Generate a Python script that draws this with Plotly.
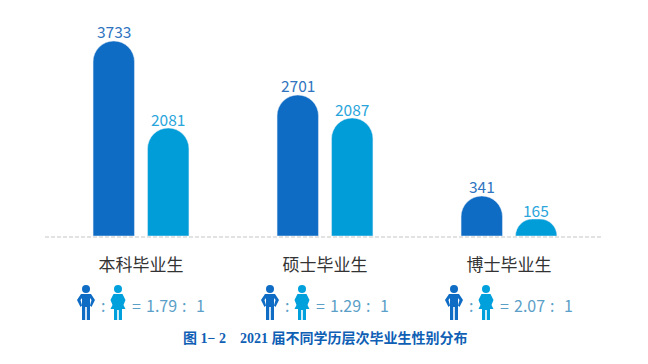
import plotly.graph_objects as go

categories = ["本科毕业生", "硕士毕业生", "博士毕业生"]
male_labels = [3733, 2701, 341]
female_labels = [2081, 2087, 165]
# Bar heights as drawn in the picture (the reference does not scale them exactly to the labels)
male_heights = [3733, 2699, 766]
female_heights = [2067, 2259, 325]
ratios = ["1.79", "1.29", "2.07"]
caption = "图 1− 2　2021 届不同学历层次毕业生性别分布"

# The page body has an 8px margin, so the figure starts at (8, 8) in the window.
PAGE = 8
W, H = 632, 348
ML, MR, MT, MB = 41, 39, 12, 120
PW, PH = W - ML - MR, H - MT - MB
BLUE, CYAN = "#0F6CC4", "#009DD9"
CAT_STEP = PW / 3
BAR_SHIFT = 27.25


def px(x):
    return (x - PAGE - ML) / PW


def py(y):
    return 1 - (y - PAGE - MT) / PH


def path(points):
    return "M" + " L".join(f"{px(x):.5f},{py(y):.5f}" for x, y in points) + " Z"


def person(cx, top, color, female=False):
    shapes = [dict(type="circle", xref="paper", yref="paper", x0=px(cx - 4), x1=px(cx + 4),
                   y0=py(top + 8), y1=py(top), fillcolor=color, line_width=0)]
    if not female:
        body = [(-5, 9), (5, 9), (9, 15), (5.5, 22), (4, 20.5), (5.5, 15), (4, 13), (4, 35),
                (0.8, 35), (0.8, 22), (-0.8, 22), (-0.8, 35), (-4, 35), (-4, 13), (-5.5, 15),
                (-4, 20.5), (-5.5, 22), (-9, 15)]
    else:
        body = [(-4.5, 9), (4.5, 9), (7.5, 15), (5.5, 20), (7.5, 24), (4, 24), (4, 35), (0.8, 35),
                (0.8, 25), (-0.8, 25), (-0.8, 35), (-4, 35), (-4, 24), (-7.5, 24), (-5.5, 20),
                (-7.5, 15)]
    shapes.append(dict(type="path", xref="paper", yref="paper",
                       path=path([(cx + a, top + b) for a, b in body]),
                       fillcolor=color, line_width=0))
    return shapes


def note(text, x, y, size=16, color="#5B9FC8", anchor="center", **kw):
    return dict(text=text, x=px(x), y=py(y), xref="paper", yref="paper", xanchor=anchor,
                yanchor="middle", showarrow=False, font=dict(size=size, color=color, **kw))


fig = go.Figure()
fig.add_bar(x=categories, y=male_heights, marker_color=BLUE)
fig.add_bar(x=categories, y=female_heights, marker_color=CYAN)

shapes = [dict(type="line", xref="paper", yref="paper", x0=px(45), x1=px(602), y0=py(237), y1=py(237),
               line=dict(color="#E2E2E2", width=2, dash="4px,2px"))]
annotations = []
for i, (cat, ml, mh, fl, fh) in enumerate(zip(categories, male_labels, male_heights,
                                              female_labels, female_heights)):
    annotations.append(dict(text=str(ml), x=cat, y=mh, xref="x", yref="y", showarrow=False,
                            xshift=-BAR_SHIFT, yshift=10, yanchor="middle",
                            font=dict(size=15.5, color="#2F74C0")))
    annotations.append(dict(text=str(fl), x=cat, y=fh, xref="x", yref="y", showarrow=False,
                            xshift=BAR_SHIFT, yshift=9, yanchor="middle",
                            font=dict(size=15.5, color="#2AA5DC")))

for i, ratio in enumerate(ratios):
    off = CAT_STEP * i
    shapes += person(86 + off, 285, BLUE)
    shapes += person(118 + off, 285, "#00A0DC", female=True)
    annotations.append(note(":", 103 + off, 305))
    annotations.append(note("=", 130 + off, 305, anchor="left"))
    annotations.append(note(ratio, 144 + off, 305, anchor="left"))
    annotations.append(note(":", 184 + off, 305))
    annotations.append(note("1", 200 + off, 305))
annotations.append(note(f"<b>{caption}</b>", 325, 338, size=14, color="#0F5FB5",
                        family="Liberation Serif, Noto Sans CJK SC"))

fig.update_layout(
    width=W, height=H, margin=dict(l=ML, r=MR, t=MT, b=MB),
    paper_bgcolor="white", plot_bgcolor="white", showlegend=False,
    barmode="group", bargap=0.408, bargroupgap=0.24, barcornerradius="50%",
    font=dict(family="Noto Sans CJK SC, Noto Sans"), shapes=shapes, annotations=annotations,
    xaxis=dict(showline=False, showgrid=False, ticks="", ticklabelstandoff=17,
               tickfont=dict(size=17, color="#333333")),
    yaxis=dict(visible=False, range=[0, 4135]),
)
fig.write_html("out.html")
